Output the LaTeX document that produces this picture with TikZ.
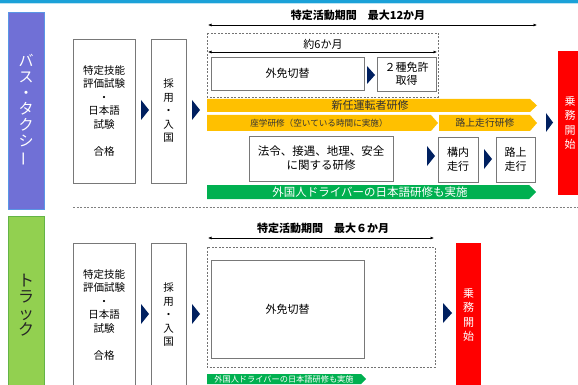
\documentclass[tikz,border=0pt]{standalone}
\usepackage{fontspec}
\setmainfont{Noto Sans CJK JP}
\usetikzlibrary{arrows.meta}

\definecolor{topblue}{RGB}{27,161,216}
\definecolor{busblue}{RGB}{112,112,214}
\definecolor{busedge}{RGB}{90,150,230}
\definecolor{truckgreen}{RGB}{146,208,80}
\definecolor{truckedge}{RGB}{100,180,70}
\definecolor{bandorange}{RGB}{255,192,0}
\definecolor{bandgreen}{RGB}{0,176,80}
\definecolor{navy}{RGB}{0,32,96}
\definecolor{boxgray}{RGB}{120,120,120}

\begin{document}
\begin{tikzpicture}[x=1pt, y=-1pt,
    box/.style={draw=boxgray, line width=0.8pt, fill=white, align=center, inner sep=0pt},
    vbox/.style={box, font=\fontsize{10.5}{13.5}\selectfont},
    dashbox/.style={draw=gray!90!black, line width=0.8pt, dash pattern=on 2pt off 1.5pt},
    dimline/.style={line width=0.6pt, {Latex[length=3.5pt,width=3pt]}-{Latex[length=3.5pt,width=3pt]}},
    bandtext/.style={inner sep=0pt, text=black!80, font=\fontsize{11}{12}\selectfont},
    greentext/.style={inner sep=0pt, text=white, font=\fontsize{11}{12}\selectfont},
    headtext/.style={inner sep=0pt, font=\fontsize{11}{12}\bfseries\selectfont},
    startbox/.style={fill=red, text=white, align=center, inner sep=0pt, font=\fontsize{11}{14.5}\selectfont}
]
    \useasboundingbox (0,0) rectangle (578,385);

    % Header line
    \fill[topblue] (0,0) rectangle (578,3);
    \fill[topblue!30] (0,3) rectangle (578,4.5);

    % Category bars
    \node[box, draw=busedge, fill=busblue, minimum width=36pt, minimum height=197pt, text=white,
          font=\fontsize{15}{16}\selectfont] (bus) at (26,110.5)
          {バ\\ス\\・\\タ\\ク\\シ\\\rotatebox[origin=c]{90}{ー}};
    \node[box, draw=truckedge, fill=truckgreen, minimum width=36pt, minimum height=178pt, text=black!85,
          font=\fontsize{16}{16.5}\selectfont] (truck) at (26,305) {ト\\ラ\\ッ\\ク};

    % ---- Bus / taxi ----
    \node[vbox, minimum width=62pt, minimum height=144pt] (qualA) at (104,111)
          {特定技能\\評価試験\\・\\日本語\\試験\\[14pt]合格};
    \node[vbox, minimum width=35pt, minimum height=144pt] (entryA) at (168.5,111)
          {採\\用\\・\\入\\国};
    \fill[navy] (141,100) -- (149,110) -- (141,120) -- cycle;
    \fill[navy] (192,100) -- (200,110) -- (192,120) -- cycle;

    % Period
    \node[headtext] (periodA) at (358,15) {特定活動期間　最大12か月};
    \coordinate (periodAl) at (208,25);
    \coordinate (periodAr) at (537,25);
    \draw[dimline] (periodAl) -- (periodAr);

    % First six months
    \draw[dashbox] (207,33) rectangle (438,97);
    \node[inner sep=0pt, font=\fontsize{11}{12}\selectfont] (sixA) at (323,44) {約6か月};
    \coordinate (sixAl) at (208,52);
    \coordinate (sixAr) at (437,52);
    \draw[dimline] (sixAl) -- (sixAr);
    \node[box, minimum width=153pt, minimum height=33pt, font=\fontsize{11}{12}\selectfont] (switchA) at (287.5,73.5) {外免切替};
    \fill[navy] (367,66) -- (375,75) -- (367,84) -- cycle;
    \node[box, minimum width=59pt, minimum height=34pt, font=\fontsize{11}{13.5}\selectfont] (class2) at (406.5,74) {２種免許\\取得};

    % Training bands
    \fill[bandorange] (207,99) -- (530,99) -- (537,105.5) -- (530,112) -- (207,112) -- cycle;
    \node[bandtext] (newdriver) at (370,105.5) {新任運転者研修};
    \fill[bandorange] (207,115) -- (431,115) -- (438,123) -- (431,131) -- (207,131) -- cycle;
    \node[bandtext, font=\fontsize{8.6}{10}\selectfont] (classroom) at (319,123) {座学研修（空いている時間に実施）};
    \fill[bandorange] (439,115) -- (530,115) -- (537,123) -- (530,131) -- (439,131) -- cycle;
    \node[bandtext, font=\fontsize{9.8}{11}\selectfont] (roadtrain) at (485,123) {路上走行研修};

    \node[box, minimum width=144pt, minimum height=45pt, font=\fontsize{11.5}{14}\selectfont] (law) at (321,158.5)
          {法令、接遇、地理、安全\\に関する研修};
    \fill[navy] (427,146) -- (435,156) -- (427,166) -- cycle;
    \node[box, minimum width=40pt, minimum height=45pt, font=\fontsize{11}{14}\selectfont] (yard) at (458,159.5) {構内\\走行};
    \fill[navy] (484,149) -- (492,159) -- (484,169) -- cycle;
    \node[box, minimum width=39pt, minimum height=45pt, font=\fontsize{11}{14}\selectfont] (road) at (515.5,159.5) {路上\\走行};

    \fill[bandgreen] (207,185) -- (529,185) -- (536,192) -- (529,199) -- (207,199) -- cycle;
    \node[greentext, font=\fontsize{11.5}{12}\selectfont] (langA) at (370,192) {外国人ドライバーの日本語研修も実施};

    \fill[navy] (546,113) -- (553,122.5) -- (546,132) -- cycle;
    \node[startbox, minimum width=24pt, minimum height=144pt] (startA) at (570,123) {乗\\務\\開\\始};

    % Separator
    \draw[gray, line width=0.7pt, dash pattern=on 2pt off 1.5pt] (73,207) -- (578,207);

    % ---- Truck ----
    \node[vbox, minimum width=62pt, minimum height=144pt] (qualB) at (104,315)
          {特定技能\\評価試験\\・\\日本語\\試験\\[14pt]合格};
    \node[vbox, minimum width=35pt, minimum height=144pt] (entryB) at (168.5,315)
          {採\\用\\・\\入\\国};
    \fill[navy] (141,304) -- (149,314) -- (141,324) -- cycle;
    \fill[navy] (192,304) -- (200,314) -- (192,324) -- cycle;

    \node[headtext] (periodB) at (323,228) {特定活動期間　最大６か月};
    \coordinate (periodBl) at (208,238);
    \coordinate (periodBr) at (434,238);
    \draw[dimline] (periodBl) -- (periodBr);

    \draw[dashbox] (207,247) rectangle (435,367);
    \node[box, minimum width=153pt, minimum height=98pt, font=\fontsize{11}{12}\selectfont] (switchB) at (287.5,309) {外免切替};

    \fill[bandgreen] (207,374) -- (361,374) -- (366,379) -- (361,384) -- (207,384) -- cycle;
    \node[greentext, font=\fontsize{8.2}{9}\selectfont] (langB) at (284,379) {外国人ドライバーの日本語研修も実施};

    \fill[navy] (443,303) -- (452,313) -- (443,323) -- cycle;
    \node[startbox, minimum width=25pt, minimum height=144pt] (startB) at (468.5,315) {乗\\務\\開\\始};
\end{tikzpicture}
\end{document}
